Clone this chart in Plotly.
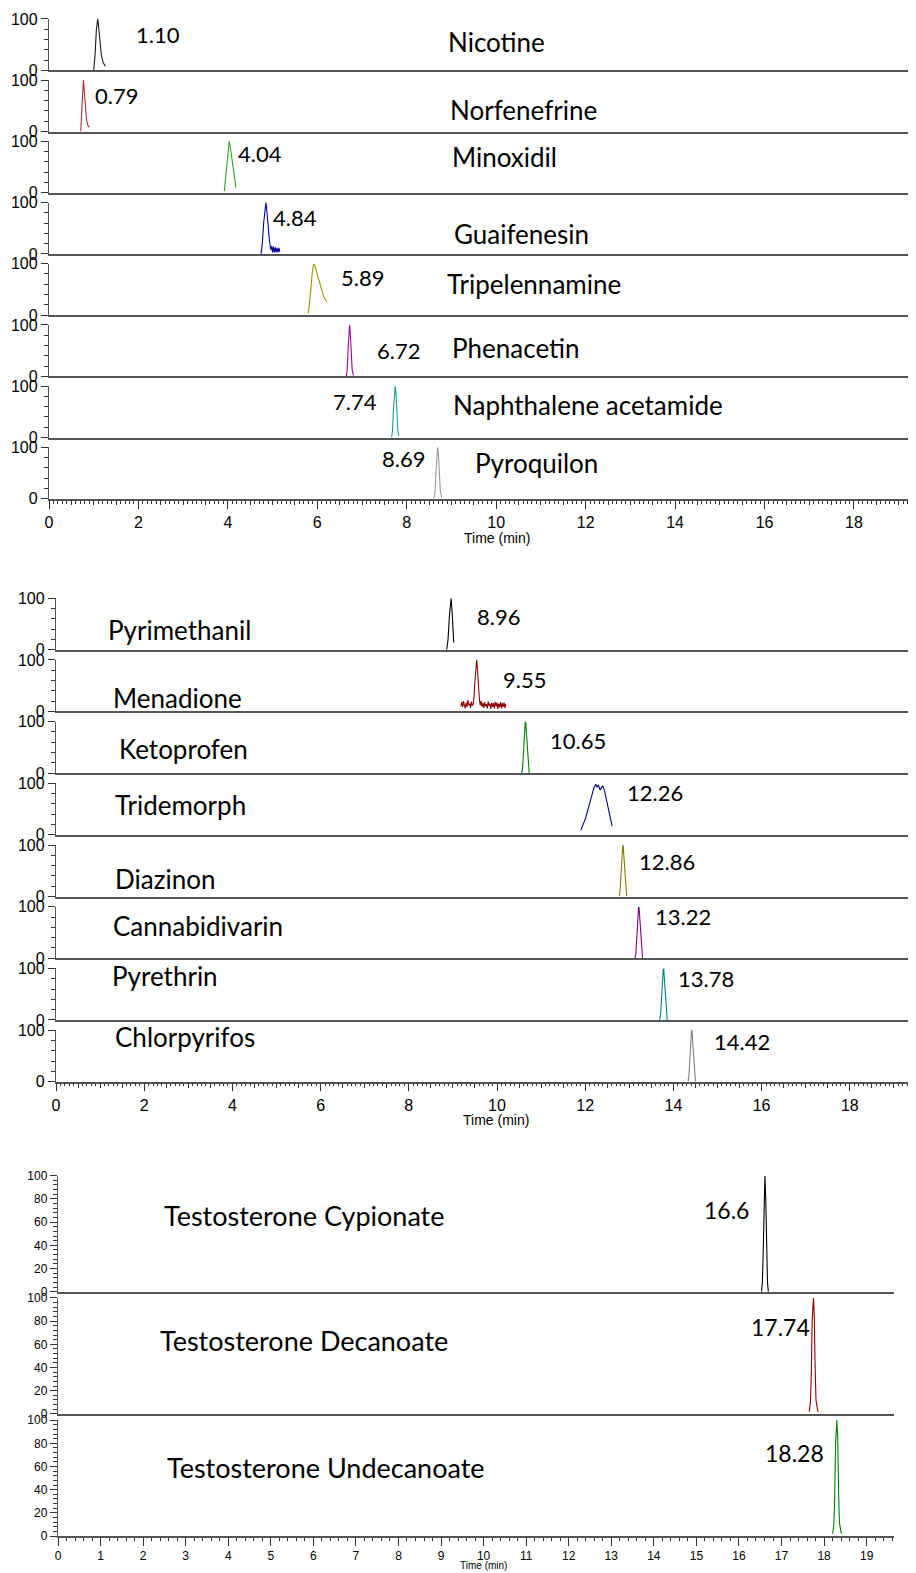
import plotly.graph_objects as go

W, H = 916, 1573
OFF = 8  # page body margin in the browser

# ---------------- DATA ----------------
# Panel 1
p1_names = ["Nicotine", "Norfenefrine", "Minoxidil", "Guaifenesin",
            "Tripelennamine", "Phenacetin", "Naphthalene acetamide", "Pyroquilon"]
p1_rts = ["1.10", "0.79", "4.04", "4.84", "5.89", "6.72", "7.74", "8.69"]
p1_colors = ["#1a1a1a", "#a83232", "#2ea02e", "#00009a", "#9a9a00", "#990099", "#1f9a9a", "#9a9a9a"]

nicotine_t = [1.00, 1.03, 1.06, 1.09, 1.11, 1.14, 1.17, 1.21, 1.26]
nicotine_i = [0, 30, 80, 100, 85, 55, 30, 15, 8]
norfenefrine_t = [0.71, 0.73, 0.75, 0.77, 0.79, 0.81, 0.84, 0.87, 0.90]
norfenefrine_i = [0, 25, 70, 100, 75, 42, 22, 12, 8]
minoxidil_t = [3.92, 3.95, 3.98, 4.01, 4.03, 4.06, 4.09, 4.12, 4.15, 4.18]
minoxidil_i = [3, 30, 65, 92, 100, 85, 65, 45, 25, 10]
guaifenesin_t = [4.74, 4.77, 4.80, 4.83, 4.85, 4.87, 4.90, 4.93, 4.96, 4.98, 5.00,
                 5.02, 5.04, 5.06, 5.08, 5.10, 5.12, 5.14, 5.16]
guaifenesin_i = [0, 20, 60, 95, 100, 85, 50, 25, 8, 15, 3, 14, 3, 13, 3, 12, 3, 12, 4]
tripelennamine_t = [5.80, 5.83, 5.86, 5.89, 5.92, 5.95, 5.99, 6.03, 6.07, 6.11, 6.15, 6.18, 6.21]
tripelennamine_i = [3, 25, 55, 85, 100, 95, 82, 68, 55, 45, 35, 30, 26]
phenacetin_t = [6.65, 6.67, 6.69, 6.71, 6.72, 6.74, 6.76, 6.78, 6.81]
phenacetin_i = [0, 15, 55, 92, 100, 80, 40, 12, 2]
naphthalene_t = [7.66, 7.68, 7.70, 7.72, 7.74, 7.76, 7.78, 7.80, 7.82]
naphthalene_i = [0, 12, 50, 90, 100, 85, 45, 15, 3]
pyroquilon_t = [8.61, 8.63, 8.65, 8.67, 8.69, 8.71, 8.73, 8.75, 8.78]
pyroquilon_i = [0, 12, 45, 88, 100, 85, 45, 15, 2]

# Panel 2
p2_names = ["Pyrimethanil", "Menadione", "Ketoprofen", "Tridemorph",
            "Diazinon", "Cannabidivarin", "Pyrethrin", "Chlorpyrifos"]
p2_rts = ["8.96", "9.55", "10.65", "12.26", "12.86", "13.22", "13.78", "14.42"]
p2_colors = ["#000000", "#8b0000", "#008000", "#000080", "#808000", "#800080", "#008080", "#808080"]

pyrimethanil_t = [8.86, 8.89, 8.92, 8.94, 8.96, 8.98, 9.00, 9.02]
pyrimethanil_i = [0, 20, 65, 95, 100, 75, 35, 14]
menadione_t = [9.18, 9.20, 9.22, 9.24, 9.26, 9.28, 9.30, 9.32, 9.34, 9.36, 9.38, 9.40,
               9.42, 9.44, 9.46, 9.48, 9.50, 9.52, 9.54, 9.56, 9.58, 9.60, 9.62, 9.64,
               9.66, 9.68, 9.70, 9.72, 9.74, 9.76, 9.78, 9.80, 9.82, 9.84, 9.86, 9.88,
               9.90, 9.92, 9.94, 9.96, 9.98, 10.00, 10.02, 10.04, 10.06, 10.08, 10.10,
               10.12, 10.14, 10.16, 10.18, 10.20]
menadione_i = [10, 18, 8, 20, 12, 6, 17, 9, 22, 12, 15, 7,
               19, 11, 14, 30, 60, 90, 100, 78, 40, 25, 12, 20,
               9, 16, 7, 18, 10, 14, 6, 19, 11, 15, 5, 17,
               9, 16, 6, 18, 10, 17, 5, 15, 8, 18, 6,
               16, 9, 17, 7, 14]
ketoprofen_t = [10.56, 10.58, 10.60, 10.62, 10.64, 10.65, 10.67, 10.69, 10.71, 10.73]
ketoprofen_i = [0, 10, 40, 80, 98, 100, 75, 35, 10, 0]
tridemorph_t = [11.90, 11.95, 12.00, 12.05, 12.10, 12.15, 12.20, 12.24, 12.27, 12.30,
                12.34, 12.37, 12.40, 12.44, 12.48, 12.52, 12.56, 12.61]
tridemorph_i = [9, 18, 30, 45, 62, 79, 92, 98, 93, 96, 87, 92, 95, 85, 70, 55, 38, 17]
diazinon_t = [12.77, 12.79, 12.81, 12.83, 12.85, 12.86, 12.88, 12.90, 12.92, 12.94]
diazinon_i = [0, 10, 40, 80, 98, 100, 75, 35, 10, 0]
cannabidivarin_t = [13.13, 13.15, 13.17, 13.19, 13.21, 13.22, 13.24, 13.26, 13.28, 13.30]
cannabidivarin_i = [0, 10, 40, 80, 98, 100, 75, 35, 10, 0]
pyrethrin_t = [13.69, 13.71, 13.73, 13.75, 13.77, 13.78, 13.80, 13.82, 13.84, 13.86]
pyrethrin_i = [0, 10, 40, 80, 98, 100, 75, 35, 10, 0]
chlorpyrifos_t = [14.33, 14.35, 14.37, 14.39, 14.41, 14.42, 14.44, 14.46, 14.48, 14.50]
chlorpyrifos_i = [0, 10, 40, 80, 98, 100, 75, 35, 10, 0]

# Panel 3
p3_names = ["Testosterone Cypionate", "Testosterone Decanoate", "Testosterone Undecanoate"]
p3_rts = ["16.6", "17.74", "18.28"]
p3_colors = ["#000000", "#8b0000", "#008000"]

cypionate_t = [16.53, 16.55, 16.57, 16.59, 16.61, 16.63, 16.65, 16.67, 16.69]
cypionate_i = [0, 8, 35, 80, 100, 80, 35, 8, 0]
decanoate_t = [17.65, 17.68, 17.70, 17.72, 17.75, 17.77, 17.79, 17.81, 17.84, 17.86]
decanoate_i = [2, 10, 35, 80, 100, 85, 40, 12, 5, 2]
undecanoate_t = [18.20, 18.23, 18.25, 18.27, 18.30, 18.32, 18.34, 18.36, 18.39, 18.41]
undecanoate_i = [2, 10, 35, 80, 100, 85, 40, 12, 5, 2]

p1_peaks = [(nicotine_t, nicotine_i), (norfenefrine_t, norfenefrine_i),
            (minoxidil_t, minoxidil_i), (guaifenesin_t, guaifenesin_i),
            (tripelennamine_t, tripelennamine_i), (phenacetin_t, phenacetin_i),
            (naphthalene_t, naphthalene_i), (pyroquilon_t, pyroquilon_i)]
p2_peaks = [(pyrimethanil_t, pyrimethanil_i), (menadione_t, menadione_i),
            (ketoprofen_t, ketoprofen_i), (tridemorph_t, tridemorph_i),
            (diazinon_t, diazinon_i), (cannabidivarin_t, cannabidivarin_i),
            (pyrethrin_t, pyrethrin_i), (chlorpyrifos_t, chlorpyrifos_i)]
p3_peaks = [(cypionate_t, cypionate_i), (decanoate_t, decanoate_i),
            (undecanoate_t, undecanoate_i)]

p12_xtick_vals = [0, 2, 4, 6, 8, 10, 12, 14, 16, 18]
p3_xtick_vals = list(range(0, 20))

# ---------------- LAYOUT (pixel geometry, screen coordinates) ----------------
TICKFONT = "Liberation Sans, Arial, sans-serif"
LABELFONT = "Lato, 'Open Sans', sans-serif"
AXCOL = "#555555"


def fx(px):
    return (px - OFF) / W


def fy(py):
    return 1 - (py - OFF) / H


panels = [
    dict(peaks=p1_peaks, names=p1_names, rts=p1_rts, colors=p1_colors,
         x0=49, x1=914, xmax=(914 - 49) / 44.72, bottom0=70.3, step=61.2, height=51.4,
         name_pos=[(446, 42), (448, 110), (450, 157), (452, 234), (445, 284), (450, 348), (451, 405), (473, 463)],
         rt_pos=[(134, 35), (93, 95), (236, 153), (271, 218), (339, 278), (375, 350), (331, 401), (380, 458)],
         name_size=26, rt_size=22, tick_size=16, yticks=[0, 100], ydminor=20,
         xticks=p12_xtick_vals, xminor=0.1, xmed=0.5, title_pos=(497, 538), title_size=14),
    dict(peaks=p2_peaks, names=p2_names, rts=p2_rts, colors=p2_colors,
         x0=56, x1=914, xmax=(914 - 56) / 44.1, bottom0=649.7, step=61.7, height=51.5,
         name_pos=[(106, 630), (111, 698), (117, 749), (113, 805), (113, 879), (111, 926), (110, 976), (113, 1037)],
         rt_pos=[(475, 616), (501, 679), (548, 740), (625, 793), (637, 861), (653, 916), (676, 978), (712, 1041)],
         name_size=26, rt_size=22, tick_size=16, yticks=[0, 100], ydminor=20,
         xticks=p12_xtick_vals, xminor=0.1, xmed=0.5, title_pos=(496, 1120), title_size=14),
    dict(peaks=p3_peaks, names=p3_names, rts=p3_rts, colors=p3_colors,
         x0=58, x1=894.3, xmax=(894.3 - 58) / 42.56, bottom0=1291.7, step=122.2, height=116,
         name_pos=[(162, 1215), (158, 1340), (165, 1467)],
         rt_pos=[(702, 1210), (749, 1327), (763, 1453)],
         name_size=27, rt_size=23, tick_size=12, yticks=[0, 20, 40, 60, 80, 100], ydminor=4,
         xticks=p3_xtick_vals, xminor=0.2, xmed=None, title_pos=(483, 1565), title_size=10),
]

fig = go.Figure()
layout = {}
annotations = []
n = 0
extra = 19
for p in panels:
    npl = len(p["peaks"])
    for k in range(npl):
        n += 1
        xs, ys = p["peaks"][k]
        fig.add_trace(go.Scatter(x=xs, y=ys, mode="lines",
                                 line=dict(color=p["colors"][k], width=1.1),
                                 xaxis=f"x{n}", yaxis=f"y{n}", showlegend=False,
                                 hoverinfo="skip"))
        bottom = p["bottom0"] + p["step"] * k
        top = bottom - p["height"]
        is_last = (k == npl - 1)
        xa = dict(domain=[fx(p["x0"]), min(1.0, fx(p["x1"]))], range=[0, p["xmax"]],
                  anchor=f"y{n}", showline=True, linecolor=AXCOL, linewidth=1.6,
                  showgrid=False, zeroline=False, fixedrange=True, automargin=False)
        if is_last:
            xa.update(tickmode="array", tickvals=p["xticks"],
                      ticktext=[str(v) for v in p["xticks"]],
                      ticks="outside", ticklen=8, tickwidth=1, tickcolor="#333",
                      tickfont=dict(family=TICKFONT, size=p["tick_size"], color="black"),
                      minor=dict(dtick=p["xminor"], tick0=0, ticks="outside", ticklen=3,
                                 tickwidth=1, tickcolor="#333"))
        else:
            xa.update(showticklabels=False, ticks="")
        ya = dict(domain=[fy(bottom), fy(top)], range=[0, 100], anchor=f"x{n}",
                  showline=True, linecolor=AXCOL, linewidth=1.4, showgrid=False,
                  zeroline=False, fixedrange=True, tickmode="array", automargin=False,
                  tickvals=p["yticks"], ticktext=[str(v) for v in p["yticks"]],
                  ticks="outside", ticklen=7, tickwidth=1, tickcolor="#333",
                  tickfont=dict(family=TICKFONT, size=p["tick_size"], color="black"),
                  minor=dict(dtick=p["ydminor"], tick0=0, ticks="outside", ticklen=4,
                             tickwidth=1, tickcolor="#333"))
        layout[f"xaxis{n}"] = xa
        layout[f"yaxis{n}"] = ya
        if is_last and p["xmed"]:
            extra += 1
            layout[f"xaxis{extra}"] = dict(overlaying=f"x{n}", anchor=f"y{n}",
                                           range=[0, p["xmax"]], side="bottom",
                                           tickmode="linear", tick0=0, dtick=p["xmed"],
                                           ticks="outside", ticklen=5, tickwidth=1,
                                           tickcolor="#333", showticklabels=False,
                                           showline=False, showgrid=False, zeroline=False,
                                           fixedrange=True, automargin=False)
            fig.add_trace(go.Scatter(x=[None], y=[None], xaxis=f"x{extra}", yaxis=f"y{n}",
                                     showlegend=False, hoverinfo="skip", mode="lines"))
        nx, ny = p["name_pos"][k]
        annotations.append(dict(text=p["names"][k], x=fx(nx), y=fy(ny), xref="paper",
                                yref="paper", xanchor="left", yanchor="middle",
                                showarrow=False,
                                font=dict(family=LABELFONT, size=p["name_size"], color="black")))
        rx, ry = p["rt_pos"][k]
        annotations.append(dict(text=p["rts"][k], x=fx(rx), y=fy(ry), xref="paper",
                                yref="paper", xanchor="left", yanchor="middle",
                                showarrow=False,
                                font=dict(family=LABELFONT, size=p["rt_size"], color="black")))
    tx, ty = p["title_pos"]
    annotations.append(dict(text="Time (min)", x=fx(tx), y=fy(ty), xref="paper",
                            yref="paper", xanchor="center", yanchor="middle",
                            showarrow=False,
                            font=dict(family=TICKFONT, size=p["title_size"], color="black")))

fig.update_layout(width=W, height=H,
                  margin=dict(l=0, r=0, t=0, b=0, pad=0, autoexpand=False),
                  paper_bgcolor="white", plot_bgcolor="white",
                  annotations=annotations, showlegend=False, **layout)

fig.write_html("out.html")
